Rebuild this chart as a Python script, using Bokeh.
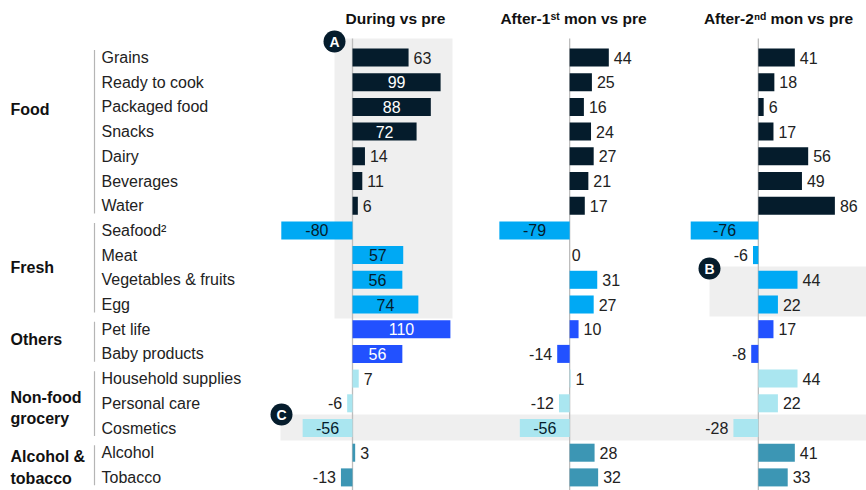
from bokeh.plotting import figure
from bokeh.models import Range1d, ColumnDataSource
from bokeh.core.properties import value
from bokeh.embed import file_html
from bokeh.resources import INLINE

# ---------------- data ----------------
categories = ["Grains", "Ready to cook", "Packaged food", "Snacks", "Dairy", "Beverages", "Water",
              "Seafood\u00b2", "Meat", "Vegetables & fruits", "Egg",
              "Pet life", "Baby products",
              "Household supplies", "Personal care", "Cosmetics",
              "Alcohol", "Tobacco"]
groups = ["Food"] * 7 + ["Fresh"] * 4 + ["Others"] * 2 + ["Non-food"] * 3 + ["Alcohol"] * 2
group_names = ["Food", "Fresh", "Others", "Non-food", "Alcohol"]
group_texts = ["Food", "Fresh", "Others", "Non-food\ngrocery", "Alcohol &\ntobacco"]

during = [63, 99, 88, 72, 14, 11, 6, -80, 57, 56, 74, 110, 56, 7, -6, -56, 3, -13]
after1 = [44, 25, 16, 24, 27, 21, 17, -79, 0, 31, 27, 10, -14, 1, -12, -56, 28, 32]
after2 = [41, 18, 6, 17, 56, 49, 86, -76, -6, 44, 22, 17, -8, 44, 22, -28, 41, 33]

inside_during = [0, 1, 1, 1, 0, 0, 0, 1, 1, 1, 1, 1, 1, 0, 0, 1, 0, 0]
inside_after1 = [0, 0, 0, 0, 0, 0, 0, 1, 0, 0, 0, 0, 0, 0, 0, 1, 0, 0]
inside_after2 = [0, 0, 0, 0, 0, 0, 0, 1, 0, 0, 0, 0, 0, 0, 0, 0, 0, 0]

panel_titles = ["During vs pre", "After-1\u02e2\u1d57 mon vs pre", "After-2\u207f\u1d48 mon vs pre"]
callouts = ["A", "B", "C"]

group_colors = {"Food": "#051C2C", "Fresh": "#00A9F4", "Others": "#2251FF",
                "Non-food": "#AAE6F0", "Alcohol": "#3C96B4"}
inside_text_colors = {"Food": "white", "Fresh": "#051C2C", "Others": "white",
                      "Non-food": "#051C2C", "Alcohol": "white"}

# ---------------- geometry helpers ----------------
S = 0.89          # px per unit
W, H = 866, 490
XS = -352 / S     # data x at left edge of frame
ROW0, ROWH = 57, 24.7
FONT = "Liberation Sans"
TXT = "#222222"


def px(p):
    return p / S + XS


def row(p):
    return (p - ROW0) / ROWH


offsets = [0, 244, 456]
panels = [(during, inside_during), (after1, inside_after1), (after2, inside_after2)]

p = figure(width=W, height=H, output_backend="svg", toolbar_location=None,
           x_range=Range1d(XS, XS + W / S), y_range=Range1d(row(H), row(0)),
           min_border=0, min_border_left=0, min_border_right=0, min_border_top=0, min_border_bottom=0)
p.xaxis.visible = False
p.yaxis.visible = False
p.grid.visible = False
p.outline_line_color = None
p.background_fill_color = "white"

rows = list(range(len(categories)))

# highlight boxes
GRAY = "#EFEFEF"
p.quad(left=[px(334), px(709), px(280)], right=[px(452), XS + W / S, XS + W / S],
       top=[row(38), row(266), row(414)], bottom=[row(318), row(316), row(440)],
       fill_color=GRAY, line_color=None)

# zero lines
p.segment(x0=offsets, x1=offsets, y0=[row(38)] * 3, y1=[row(500)] * 3,
          line_color="#BDBDBD", line_width=1.3)

# group bracket lines
for g in group_names:
    idx = [i for i, gg in enumerate(groups) if gg == g]
    p.segment(x0=[px(94)], x1=[px(94)], y0=[idx[0] - 0.3], y1=[idx[-1] + 0.32],
              line_color="#B5B5B5", line_width=1.2)

FS = "16px"
# bars + labels
for off, (vals, inside) in zip(offsets, panels):
    colors = [group_colors[g] for g in groups]
    src = ColumnDataSource(dict(y=rows, left=[off + min(v, 0) for v in vals],
                                right=[off + max(v, 0) for v in vals], color=colors))
    p.hbar(y="y", left="left", right="right", height=0.73, fill_color="color",
           line_color=None, source=src)

    gap = 5 / S
    pos = dict(x=[], y=[], t=[])
    neg = dict(x=[], y=[], t=[])
    ins = dict(x=[], y=[], t=[], c=[])
    for i, (v, f) in enumerate(zip(vals, inside)):
        if f:
            ins["x"].append(off + v / 2)
            ins["y"].append(i)
            ins["t"].append(str(v))
            ins["c"].append(inside_text_colors[groups[i]])
        elif v >= 0:
            pos["x"].append(off + v + (gap if v > 0 else 2 / S))
            pos["y"].append(i)
            pos["t"].append(str(v))
        else:
            neg["x"].append(off + v - gap)
            neg["y"].append(i)
            neg["t"].append(str(v))
    p.text(x="x", y="y", text="t", source=ColumnDataSource(pos), text_align="left",
           text_baseline="middle", text_font=value(FONT), text_font_size=FS, text_color=TXT)
    p.text(x="x", y="y", text="t", source=ColumnDataSource(neg), text_align="right",
           text_baseline="middle", text_font=value(FONT), text_font_size=FS, text_color=TXT)
    p.text(x="x", y="y", text="t", text_color="c", source=ColumnDataSource(ins), text_align="center",
           text_baseline="middle", text_font=value(FONT), text_font_size=FS)

# category labels
p.text(x=[px(101)] * len(categories), y=rows, text=categories, text_align="left",
       text_baseline="middle", text_font=value(FONT), text_font_size=FS, text_color=TXT)

# group labels
p.text(x=[px(10)] * 5, y=[2.1, 8.5, 11.4, 14.2, 16.6], text=group_texts, text_align="left",
       text_baseline="middle", text_font=value(FONT), text_font_size=FS,
       text_font_style="bold", text_color="#111111", text_line_height=1.25)

# panel titles
p.text(x=[px(395), px(573), px(778)], y=[row(18)] * 3, text=panel_titles, text_align="center",
       text_baseline="middle", text_font=value(FONT), text_font_size="15.5px",
       text_font_style="bold", text_color="#111111")

# callout markers
cx = [px(334), px(709), px(281)]
cy = [row(41), row(268), row(414)]
p.scatter(x=cx, y=cy, marker="circle", size=22, fill_color="#051C2C", line_color=None)
p.text(x=cx, y=cy, text=callouts, text_align="center", text_baseline="middle",
       text_font=value(FONT), text_font_size="14px", text_font_style="bold", text_color="white")

open("out.html", "w").write(file_html(p, INLINE))
